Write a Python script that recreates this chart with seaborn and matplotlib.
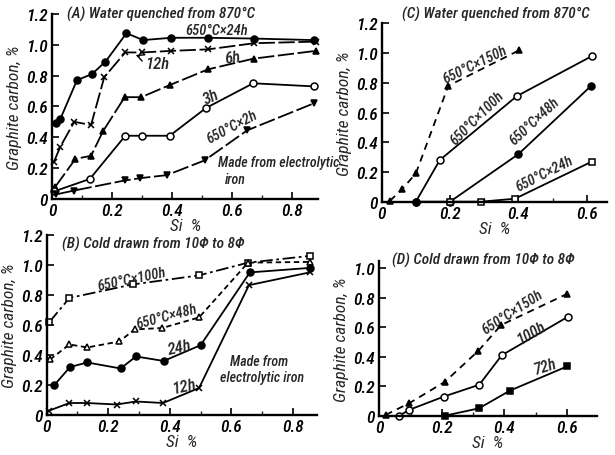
import matplotlib
matplotlib.use("Agg")
import matplotlib.pyplot as plt
import seaborn as sns
import pandas as pd

# ---------------- data ----------------
# Panel A : water quenched from 870C
a_24h_si = [0.013, 0.028, 0.083, 0.133, 0.178, 0.248, 0.303, 0.397, 0.52, 0.672, 0.872]
a_24h_c = [0.49, 0.52, 0.77, 0.81, 0.89, 1.075, 1.03, 1.045, 1.045, 1.04, 1.03]
a_12h_si = [0.006, 0.028, 0.074, 0.13, 0.174, 0.244, 0.30, 0.397, 0.52, 0.674, 0.878]
a_12h_c = [0.24, 0.34, 0.50, 0.48, 0.79, 0.95, 0.95, 0.96, 0.97, 1.01, 1.02]
a_6h_si = [0.011, 0.078, 0.13, 0.17, 0.242, 0.297, 0.394, 0.519, 0.672, 0.878]
a_6h_c = [0.08, 0.26, 0.28, 0.44, 0.66, 0.66, 0.74, 0.84, 0.91, 0.96]
a_3h_si = [0.008, 0.126, 0.244, 0.30, 0.392, 0.513, 0.67, 0.872]
a_3h_c = [0.05, 0.13, 0.41, 0.41, 0.41, 0.59, 0.75, 0.73]
a_2h_si = [0.014, 0.074, 0.242, 0.294, 0.383, 0.508, 0.65, 0.872]
a_2h_c = [0.03, 0.055, 0.12, 0.135, 0.155, 0.25, 0.445, 0.62]

# Panel B : cold drawn
b_100h_si = [0.009, 0.074, 0.28, 0.494, 0.654, 0.854]
b_100h_c = [0.62, 0.78, 0.87, 0.93, 1.015, 1.06]
b_48h_si = [0.011, 0.074, 0.132, 0.236, 0.286, 0.376, 0.495, 0.654, 0.854]
b_48h_c = [0.37, 0.47, 0.45, 0.49, 0.57, 0.58, 0.65, 1.015, 1.02]
b_24h_si = [0.025, 0.076, 0.132, 0.24, 0.29, 0.38, 0.50, 0.66, 0.854]
b_24h_c = [0.20, 0.32, 0.35, 0.31, 0.39, 0.36, 0.465, 0.95, 0.98]
b_12h_si = [0.009, 0.074, 0.13, 0.227, 0.29, 0.378, 0.495, 0.657, 0.854]
b_12h_c = [0.03, 0.08, 0.08, 0.07, 0.09, 0.08, 0.18, 0.865, 0.95]

# Panel C : water quenched, electrolytic iron
c_150h_si = [0.024, 0.06, 0.10, 0.195, 0.403]
c_150h_c = [0.005, 0.085, 0.19, 0.78, 1.02]
c_100h_si = [0.10, 0.17, 0.395, 0.615]
c_100h_c = [0.0, 0.28, 0.71, 0.98]
c_48h_si = [0.10, 0.20, 0.40, 0.613]
c_48h_c = [0.0, 0.0, 0.32, 0.78]
c_24h_si = [0.20, 0.29, 0.39, 0.615]
c_24h_c = [0.0, 0.0, 0.02, 0.27]

# Panel D : cold drawn, electrolytic iron
d_150h_si = [0.02, 0.096, 0.21, 0.317, 0.39, 0.60]
d_150h_c = [0.005, 0.085, 0.23, 0.44, 0.615, 0.825]
d_100h_si = [0.064, 0.096, 0.207, 0.32, 0.392, 0.603]
d_100h_c = [0.0, 0.04, 0.13, 0.21, 0.41, 0.67]
d_72h_si = [0.21, 0.319, 0.418, 0.602]
d_72h_c = [0.0, 0.05, 0.17, 0.335]

y_ticks = [0, 0.2, 0.4, 0.6, 0.8, 1.0, 1.2]
y_ticklabels = ["0", "0.2", "0.4", "0.6", "0.8", "1.0", "1.2"]

# ---------------- style ----------------
sns.set_style("ticks")
plt.rcParams['font.family'] = ['Roboto Condensed', 'DejaVu Sans']
plt.rcParams['font.style'] = 'italic'
plt.rcParams['font.weight'] = 'medium'

fig = plt.figure(figsize=(6.15, 4.56), dpi=100)
fig.patch.set_facecolor("white")

axA = fig.add_axes([0.0846, 0.5614, 0.433, 0.406])
axB = fig.add_axes([0.0759, 0.0877, 0.4395, 0.395])
axC = fig.add_axes([0.6206, 0.5555, 0.366, 0.391])
axD = fig.add_axes([0.6168, 0.0862, 0.3535, 0.3395])

FS = 11      # titles
LS = 10.5    # curve labels
LDASH = (0, (9, 2))


def series(ax, xs, ys, marker, filled=True, ls='-', ms=5):
    df = pd.DataFrame({"Si": xs, "C": ys})
    sns.lineplot(data=df, x="Si", y="C", ax=ax, color='k', marker=marker,
                 markersize=ms, markerfacecolor=('k' if filled else 'white'),
                 markeredgecolor='k', markeredgewidth=1.1, linestyle=ls,
                 linewidth=1.3, sort=False, estimator=None, clip_on=False)


def lab(ax, x, y, s, rot=0, fs=LS, **kw):
    ax.text(x, y, s, fontsize=fs, ha='center', va='center', rotation=rot,
            rotation_mode='anchor', clip_on=False, **kw)


def style_axes(ax, xmax, xt, xtl, ymax, yt, ytl):
    ax.set_facecolor("white")
    ax.set_xlim(0, xmax)
    ax.set_ylim(0, ymax)
    ax.set_xticks(xt)
    ax.set_xticklabels(xtl, fontsize=12.5)
    ax.set_yticks(yt)
    ax.set_yticklabels(ytl, fontsize=12.5)
    ax.set_xticks([v / 10 for v in range(1, int(xmax * 10) + 1)], minor=True)
    ax.tick_params(direction='in', length=5, width=1.2, colors='k', pad=3)
    ax.tick_params(which='minor', direction='in', length=3, width=1.0)
    for s in ['top', 'right']:
        ax.spines[s].set_visible(False)
    for s in ['left', 'bottom']:
        ax.spines[s].set_linewidth(1.7)
        ax.spines[s].set_color('k')
    ax.set_ylabel("Graphite carbon, %", fontsize=12.5, labelpad=3)
    ax.set_xlabel("Si  %", fontsize=12.5, labelpad=0)


# ---- Panel A ----
series(axA, a_24h_si, a_24h_c, 'o', True)
series(axA, a_12h_si, a_12h_c, 'x', True, ls=LDASH)
series(axA, a_6h_si, a_6h_c, '^', True, ls=LDASH)
series(axA, a_3h_si, a_3h_c, 'o', False)
series(axA, a_2h_si, a_2h_c, 'v', True, ls=LDASH)
style_axes(axA, 0.887, [0, 0.2, 0.4, 0.6, 0.8], ["0", "0.2", "0.4", "0.6", "0.8"],
           1.2, y_ticks, y_ticklabels)
axA.text(0.05, 1.2, "(A) Water quenched from 870°C", fontsize=FS, va='center', clip_on=False)
lab(axA, 0.55, 1.095, "650°C×24h", fs=10.5)
axA.annotate("12h", xy=(0.27, 0.94), xytext=(0.31, 0.88), fontsize=12,
             va='center', arrowprops=dict(arrowstyle='->', color='k', lw=1))
lab(axA, 0.60, 0.92, "6h", rot=8, fs=12)
lab(axA, 0.53, 0.665, "3h", rot=25, fs=12)
lab(axA, 0.60, 0.47, "650°C×2h", rot=28, fs=10.5)
axA.text(0.553, 0.24, "Made from electrolytic", fontsize=10, va='center', clip_on=False)
axA.text(0.577, 0.13, "iron", fontsize=10, va='center')

# ---- Panel B ----
series(axB, b_100h_si, b_100h_c, 's', False, ls=(0, (7, 2, 1.5, 2)), ms=4.5)
series(axB, b_48h_si, b_48h_c, '^', False, ls=(0, (3, 2)), ms=5)
series(axB, b_24h_si, b_24h_c, 'o', True)
series(axB, b_12h_si, b_12h_c, 'x', True)
style_axes(axB, 0.878, [0, 0.2, 0.4, 0.6, 0.8], ["0", "0.2", "0.4", "0.6", "0.8"],
           1.2, y_ticks, y_ticklabels)
axB.text(0.05, 1.14, "(B) Cold drawn from 10Φ to 8Φ", fontsize=FS, va='center')
lab(axB, 0.275, 0.91, "650°C×100h", rot=12, fs=10.5)
lab(axB, 0.389, 0.66, "650°C×48h", rot=15, fs=10.5)
lab(axB, 0.433, 0.455, "24h", rot=12, fs=12)
lab(axB, 0.445, 0.19, "12h", rot=12, fs=12)
lab(axB, 0.69, 0.36, "Made from", fs=10)
lab(axB, 0.70, 0.25, "electrolytic iron", fs=10)

# ---- Panel C ----
series(axC, c_150h_si, c_150h_c, '^', True, ls=(0, (4, 3)))
series(axC, c_100h_si, c_100h_c, 'o', False)
series(axC, c_48h_si, c_48h_c, 'o', True)
series(axC, c_24h_si, c_24h_c, 's', False, ms=4)
style_axes(axC, 0.6585, [0, 0.2, 0.4, 0.6], ["0", "0.2", "0.4", "0.6"],
           1.2, y_ticks, y_ticklabels)
axC.text(0.06, 1.27, "(C) Water quenched from 870°C", fontsize=FS, va='center', clip_on=False)
lab(axC, 0.272, 0.925, "650°C×150h", rot=26)
lab(axC, 0.28, 0.565, "650°C×100h", rot=45)
lab(axC, 0.446, 0.545, "650°C×48h", rot=43)
lab(axC, 0.475, 0.19, "650°C×24h", rot=27)

# ---- Panel D ----
series(axD, d_150h_si, d_150h_c, '^', True, ls=(0, (4, 3)))
series(axD, d_100h_si, d_100h_c, 'o', False)
series(axD, d_72h_si, d_72h_c, 's', True, ms=4.5)
style_axes(axD, 0.696, [0, 0.2, 0.4, 0.6], ["0", "0.2", "0.4", "0.6"],
           1.05, [0, 0.2, 0.4, 0.6, 0.8, 1.0], ["0", "0.2", "0.4", "0.6", "0.8", "1.0"])
axD.text(0.04, 1.06, "(D) Cold drawn from 10Φ to 8Φ", fontsize=FS, va='center', clip_on=False)
lab(axD, 0.4265, 0.705, "650°C×150h", rot=33)
lab(axD, 0.486, 0.565, "100h", rot=30, fs=11.5)
lab(axD, 0.53, 0.335, "72h", rot=17, fs=11.5)

fig.savefig("out.png", dpi=100, facecolor="white")
